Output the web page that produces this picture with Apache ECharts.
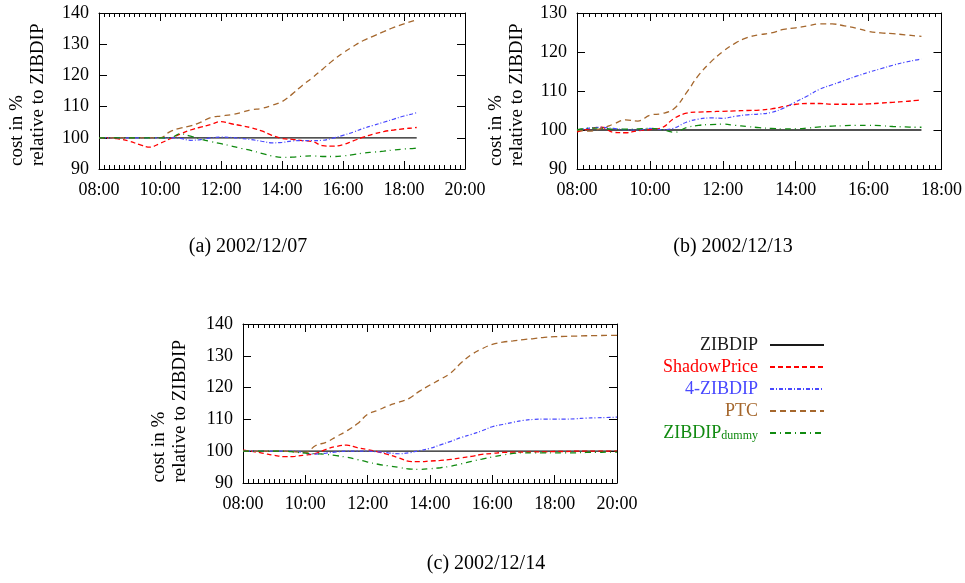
<!DOCTYPE html>
<html>
<head>
<meta charset="utf-8">
<script src="https://cdn.jsdelivr.net/npm/echarts@6.0.0/dist/echarts.min.js"></script>
<style>
  html, body { margin: 0; background: #fff; }
  #page { position: relative; width: 965px; height: 583px; }
  .panel { position: absolute; }
</style>
</head>
<body>
<div id="page">
  <div class="panel" id="chartA" style="left:0;top:0;width:500px;height:270px"></div>
  <div class="panel" id="chartB" style="left:470px;top:0;width:495px;height:270px"></div>
  <div class="panel" id="chartC" style="left:0;top:270px;width:965px;height:313px"></div>
</div>
<script>
// (a) 2002/12/07
const timesA = ['08:00','08:20','08:40','09:00','09:20','09:40','10:00','10:20','10:40','11:00','11:20','11:40',
  '12:00','12:20','12:40','13:00','13:20','13:40','14:00','14:20','14:40','15:00','15:20','15:40',
  '16:00','16:20','16:40','17:00','17:20','17:40','18:00','18:20','18:25'];
const zibdipA = [100,100,100,100,100,100,100,100,100,100,100,100,100,100,100,100,100,100,100,100,100,100,100,100,100,100,100,100,100,100,100,100,100];
const shadowA = [100,100,99.6,98.9,97.8,97.0,98.2,99.7,101.2,102.5,103.4,104.3,105.2,104.5,103.9,103.2,102.2,100.8,99.8,99.5,99.1,98.8,97.5,97.3,97.8,99.0,100.2,101.2,102.0,102.5,102.9,103.2,103.3];
const zibdip4A = [100,100,100,100,100,100,100,100,99.8,99.2,99.4,100,100.2,100.1,99.8,99.4,98.9,98.4,98.5,99.0,99.1,99.1,99.2,99.9,100.8,101.8,103.0,104.0,105.0,106.0,107.0,107.8,108.1];
const ptcA = [100,100,100,100,100,100,100,102.0,103.1,103.8,105.0,106.5,107.0,107.4,108.1,109.0,109.4,110.4,111.6,114.0,116.8,119.3,122.0,124.8,127.2,129.3,131.2,132.6,134.0,135.4,136.5,137.6,137.9];
const dummyA = [100,100,100,100,100,100,100,100,101.3,100.5,99.6,98.8,98.1,97.4,96.6,95.9,95.0,94.2,93.7,93.8,94.1,94.2,94.0,94.0,94.2,94.6,95.1,95.4,95.7,96.1,96.4,96.6,96.7];

// (b) 2002/12/13
const timesB = ['08:00','08:20','08:40','09:00','09:20','09:40','10:00','10:20','10:40','11:00','11:20','11:40',
  '12:00','12:20','12:40','13:00','13:20','13:40','14:00','14:20','14:40','15:00','15:20','15:40',
  '16:00','16:20','16:40','17:00','17:20','17:27'];
const zibdipB = [100,100,100,100,100,100,100,100,100,100,100,100,100,100,100,100,100,100,100,100,100,100,100,100,100,100,100,100,100,100];
const shadowB = [99.5,100.3,100.7,99.4,99.3,99.8,100.1,100.6,103.0,104.3,104.6,104.7,104.8,104.9,105.0,105.1,105.4,106.0,106.6,106.8,106.8,106.6,106.6,106.6,106.7,106.9,107.1,107.3,107.6,107.7];
const zibdip4B = [100,100.5,100.7,100.4,100.1,100,100.4,100.1,100.5,102.0,102.8,103.1,103.0,103.5,103.9,104.1,104.5,105.6,107.2,108.8,110.5,111.6,112.7,113.8,114.8,115.7,116.6,117.4,118.0,118.2];
const ptcB = [100,99.7,100.4,101.5,102.6,102.3,103.8,104.2,105.5,109.5,114.0,117.4,120.1,122.2,123.7,124.4,124.9,125.8,126.2,126.7,127.2,127.2,126.7,126.1,125.3,124.9,124.7,124.4,124.1,124.0];
const dummyB = [100,100.5,100.5,100.2,100.2,100.3,100.4,100.1,99.4,100.6,101.2,101.4,101.5,101.2,100.9,100.6,100.4,100.3,100.3,100.5,100.8,101.0,101.1,101.2,101.2,101.1,100.9,100.8,100.7,100.7];

// (c) 2002/12/14
const timesC = ['08:00','08:20','08:40','09:00','09:20','09:40','10:00','10:20','10:40','11:00','11:20','11:40',
  '12:00','12:20','12:40','13:00','13:20','13:40','14:00','14:20','14:40','15:00','15:20','15:40',
  '16:00','16:20','16:40','17:00','17:20','17:40','18:00','18:20','18:40','19:00','19:20','19:40','20:00'];
const zibdipC = [100,100,100,100,100,100,100,100,100,100,100,100,100,100,100,100,100,100,100,100,100,100,100,100,100,100,100,100,100,100,100,100,100,100,100,100,100];
const shadowC = [100.3,99.9,99.3,98.7,98.3,98.4,98.8,99.3,100.6,101.5,101.9,101.1,100.5,99.8,98.9,97.9,96.8,96.7,96.9,97.1,97.4,97.9,98.4,99.0,99.3,99.6,99.7,99.7,99.8,99.8,99.9,99.9,100,100,100,100,100];
const zibdip4C = [100,100,100,100,100,100,99.4,99.1,99.4,99.8,100,100,100,99.8,99.5,99.2,99.5,100.2,100.9,102.0,103.1,104.3,105.3,106.4,107.7,108.4,109.1,109.7,110.0,110.1,110.1,110.1,110.2,110.4,110.5,110.6,110.7];
const ptcC = [100,100,100,100,100,99.8,99.6,101.8,102.8,104.6,106.4,108.6,111.6,112.9,114.3,115.4,116.6,118.9,120.8,122.6,124.6,127.8,130.4,132.2,133.6,134.3,134.7,135.1,135.4,135.8,136.0,136.1,136.2,136.3,136.35,136.4,136.4];
const dummyC = [100,100,100,100,100,99.7,99.4,99.2,99.0,98.6,98.1,97.4,96.6,95.9,95.4,94.9,94.4,94.3,94.5,94.8,95.3,96.0,96.8,97.5,98.2,98.8,99.3,99.5,99.5,99.5,99.5,99.5,99.5,99.6,99.6,99.7,99.7];

const seriesNames = ['ZIBDIP', 'ShadowPrice', '4-ZIBDIP', 'PTC', 'ZIBDIP_dummy'];
const tickY = [90, 100, 110, 120, 130, 140];

const FONT = 'Liberation Serif, DejaVu Serif, serif';
const styles = {
  'ZIBDIP':       { color: '#1a1a1a', type: 'solid', width: 1.3 },
  'ShadowPrice':  { color: '#ff0000', type: [5, 3], width: 1.3 },
  '4-ZIBDIP':     { color: '#4848ff', type: [4, 2, 1, 2], width: 1.2 },
  'PTC':          { color: '#a5672d', type: [6, 4], width: 1.3 },
  'ZIBDIP_dummy': { color: '#108a10', type: [6, 4, 1, 4], width: 1.3 }
};

function toHour(s) {
  const p = s.split(':');
  return +p[0] + (+p[1]) / 60;
}
function pairs(times, vals) {
  return times.map((t, i) => [toHour(t), vals[i]]);
}
function fmtHour(v) {
  return (v < 10 ? '0' : '') + v + ':00';
}

// one chart instance per panel; positions are local to each panel div
const panels = [
  { dom: 'chartA', times: timesA, vals: [zibdipA, shadowA, zibdip4A, ptcA, dummyA], xMax: 20, yMax: 140,
    grid: { left: 99, top: 13, width: 366, height: 156 }, nameGap: 50, nameWidth: 150,
    caption: { text: '(a) 2002/12/07', left: 248, top: 237 } },
  { dom: 'chartB', times: timesB, vals: [zibdipB, shadowB, zibdip4B, ptcB, dummyB], xMax: 18, yMax: 130,
    grid: { left: 107, top: 13, width: 366, height: 156 }, nameGap: 49, nameWidth: 150,
    caption: { text: '(b) 2002/12/13', left: 263, top: 237 } },
  { dom: 'chartC', times: timesC, vals: [zibdipC, shadowC, zibdip4C, ptcC, dummyC], xMax: 20, yMax: 140,
    grid: { left: 243, top: 54, width: 374, height: 159 }, nameGap: 52, nameWidth: 158,
    caption: { text: '(c) 2002/12/14', left: 486, top: 284 }, legend: true }
];

function makeOption(p) {
  const axisLine = { show: true, onZero: false, lineStyle: { color: '#000', width: 1 } };
  const xBase = {
    type: 'value', gridIndex: 0, min: 8, max: p.xMax, interval: 2,
    axisLine: axisLine,
    axisTick: { show: true, inside: true, length: 8, lineStyle: { color: '#000', width: 1 } },
    minorTick: { show: true, splitNumber: 12, length: 4, lineStyle: { color: '#000', width: 1 } },
    splitLine: { show: false },
    minorSplitLine: { show: false }
  };
  const yBase = {
    type: 'value', gridIndex: 0, min: tickY[0], max: p.yMax, interval: tickY[1] - tickY[0],
    axisLine: axisLine,
    axisTick: { show: true, inside: true, length: 8, lineStyle: { color: '#000', width: 1 } },
    splitLine: { show: false }
  };
  const option = {
    animation: false,
    grid: [p.grid],
    xAxis: [
      Object.assign({}, xBase, {
        position: 'bottom',
        axisLabel: { margin: 12, color: '#000', fontFamily: FONT, fontSize: 18, formatter: fmtHour }
      }),
      Object.assign({}, xBase, { position: 'top', axisLabel: { show: false } })
    ],
    yAxis: [
      Object.assign({}, yBase, {
        position: 'left',
        axisLabel: { margin: 10, color: '#000', fontFamily: FONT, fontSize: 18 },
        name: '{a|cost in %}\n{a|relative to ZIBDIP}',
        nameLocation: 'middle',
        nameRotate: 90,
        nameGap: p.nameGap,
        nameTextStyle: {
          rich: { a: { width: p.nameWidth, align: 'left', fontFamily: FONT, fontSize: 19, lineHeight: 21, color: '#000' } }
        }
      }),
      Object.assign({}, yBase, { position: 'right', axisLabel: { show: false } })
    ],
    series: seriesNames.map((name, si) => {
      const st = styles[name];
      return {
        name: name,
        type: 'line',
        xAxisIndex: 0,
        yAxisIndex: 0,
        data: pairs(p.times, p.vals[si]),
        smooth: 0.4,
        symbol: 'none',
        silent: true,
        color: st.color,
        lineStyle: { color: st.color, type: st.type, width: st.width }
      };
    }),
    title: [{
      text: p.caption.text, left: p.caption.left, top: p.caption.top, textAlign: 'center', padding: 0,
      textStyle: { fontFamily: FONT, fontSize: 20, fontWeight: 'normal', color: '#000' }
    }]
  };
  if (p.legend) {
    option.legend = {
      orient: 'vertical',
      align: 'right',
      right: 140,
      top: 66,
      padding: 0,
      itemWidth: 54,
      itemHeight: 12,
      itemGap: 4,
      selectedMode: false,
      itemStyle: { opacity: 0 },
      textStyle: {
        fontFamily: FONT, fontSize: 18, padding: [0, 7, 0, 0],
        rich: {
          m: { fontFamily: FONT, fontSize: 18, color: '#108a10', verticalAlign: 'bottom' },
          s: { fontFamily: FONT, fontSize: 12, color: '#108a10', verticalAlign: 'bottom' }
        }
      },
      formatter: name => name === 'ZIBDIP_dummy' ? '{m|ZIBDIP}{s|dummy}' : name,
      data: seriesNames.map(n => ({ name: n, textStyle: { color: styles[n].color } }))
    };
  }
  return option;
}

panels.forEach(p => {
  const chart = echarts.init(document.getElementById(p.dom));
  chart.setOption(makeOption(p));
});
</script>
</body>
</html>
